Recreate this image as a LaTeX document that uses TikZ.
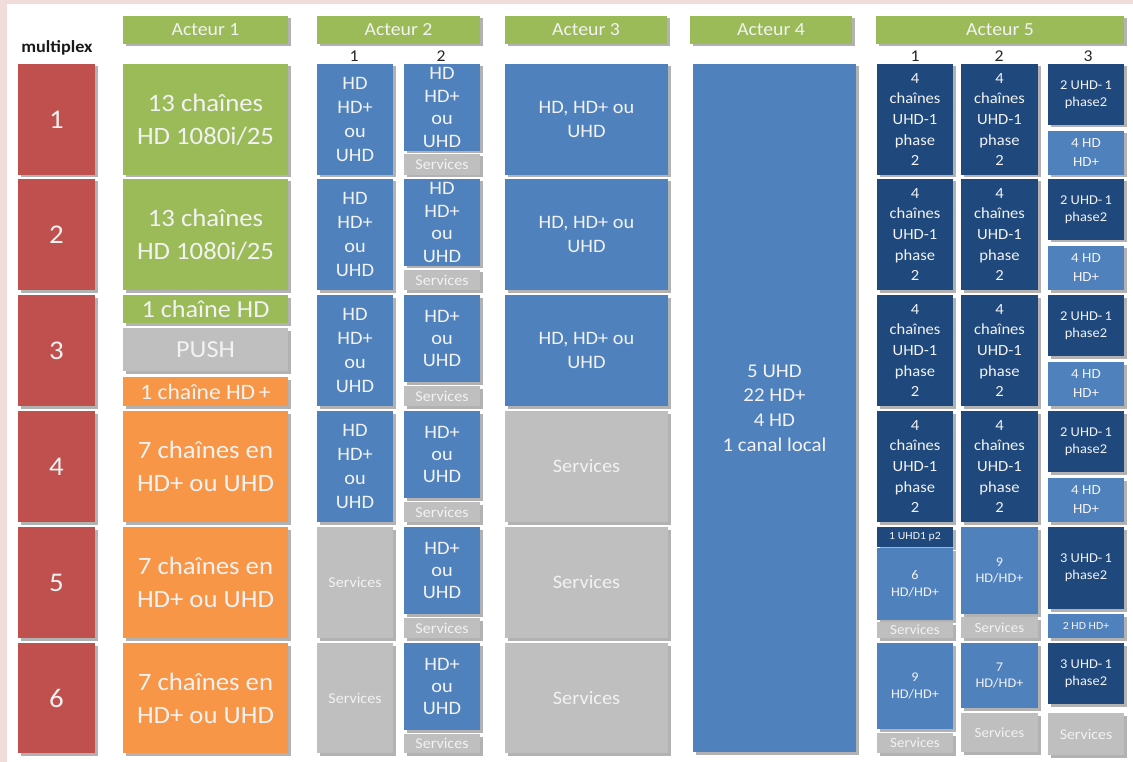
\documentclass[tikz,border=0pt]{standalone}
\usepackage{fontspec}
\setmainfont[FakeStretch=1.07]{Carlito}
\usetikzlibrary{shadows}
\definecolor{cmpx}{HTML}{C0504D}
\definecolor{cgrn}{HTML}{9BBB59}
\definecolor{corg}{HTML}{F79646}
\definecolor{cblu}{HTML}{4F81BD}
\definecolor{cdrk}{HTML}{1F497D}
\definecolor{cgry}{HTML}{BFBFBF}
\definecolor{ctxt}{HTML}{F2F2F2}
\definecolor{cpink}{HTML}{F2DCDB}
\newcommand\fs[2]{\fontsize{#1}{#2}\selectfont}
\newcommand\mybox[7]{\node[#6, minimum width={(#4)-(#2)}, minimum height={(#5)-(#3)}] (#1) at ({((#2)+(#4))/2},{((#3)+(#5))/2}) {#7};}
\tikzset{
 box/.style={rectangle, inner sep=0pt, outer sep=0pt, align=center, text=ctxt,
   drop shadow={shadow xshift=2.5pt, shadow yshift=-2.5pt, fill=black, opacity=0.3}},
 mpx/.style={box, fill=cmpx, font=\fs{27}{30}},
 grn/.style={box, fill=cgrn},
 org/.style={box, fill=corg},
 blu/.style={box, fill=cblu},
 drk/.style={box, fill=cdrk},
 gry/.style={box, fill=cgry},
 hdr/.style={box, fill=cgrn, font=\fs{18.5}{22}},
 sublbl/.style={inner sep=0pt, text=black!85, font=\fs{16.5}{18}},
 bigf/.style={font=\fs{25}{33}},
 a2a/.style={font=\fs{19}{24.3}},
 a2b/.style={font=\fs{19}{22.5}},
 a2c/.style={font=\fs{19}{21.7}},
 servs/.style={font=\fs{15}{18}},
 a3f/.style={font=\fs{19}{24}},
 chf/.style={font=\fs{15.5}{20.7}},
 uhdf/.style={font=\fs{13.5}{16.5}},
 hdf/.style={font=\fs{14}{19}},
 tinyf/.style={font=\fs{11}{13}},
 hdhdf/.style={font=\fs{13.3}{16.7}},
 serv5/.style={font=\fs{14}{16}},
}
\begin{document}
\begin{tikzpicture}[x=1pt,y=-1pt]
\useasboundingbox (0,0) rectangle (1133,762);
\fill[cpink] (0,0) rectangle (1133,762);
\fill[white] (7,4) rectangle (1133,762);
% multiplex column
\node[font=\bfseries\fs{17}{19}, text=black!90] (lbl) at (57,48) {multiplex};
\mybox{m1}{18}{64}{95}{175}{mpx}{1}
\mybox{m2}{18}{179}{95}{290}{mpx}{2}
\mybox{m3}{18}{295}{95}{406}{mpx}{3}
\mybox{m4}{18}{411}{95}{522}{mpx}{4}
\mybox{m5}{18}{527}{95}{638}{mpx}{5}
\mybox{m6}{18}{643}{95}{753}{mpx}{6}
% headers
\mybox{h1}{123}{16}{288}{44}{hdr}{Acteur 1}
\mybox{h2}{317}{16}{480}{44}{hdr}{Acteur 2}
\mybox{h3}{505}{16}{667}{44}{hdr}{Acteur 3}
\mybox{h4}{690}{16}{852}{44}{hdr}{Acteur 4}
\mybox{h5}{876}{16}{1124}{44}{hdr}{Acteur 5}
\node[sublbl] (s21) at (354,56) {1};
\node[sublbl] (s22) at (441,56) {2};
\node[sublbl] (s51) at (915,56) {1};
\node[sublbl] (s52) at (999,56) {2};
\node[sublbl] (s53) at (1088,56) {3};
% Acteur 1
\mybox{a1r1}{123}{64}{288}{175}{grn,bigf}{13 chaînes\\HD 1080i/25}
\mybox{a1r2}{123}{179}{288}{290}{grn,bigf}{13 chaînes\\HD 1080i/25}
\mybox{a1g}{123}{295}{288}{323}{grn,font=\fs{24.5}{28}}{1 chaîne HD}
\mybox{a1p}{123}{328}{288}{371}{gry,font=\fs{24.5}{28}}{PUSH}
\mybox{a1o}{123}{377}{288}{406}{org,font=\fs{22}{26}}{1 chaîne HD\,+}
\mybox{a1r4}{123}{411}{288}{522}{org,bigf}{7 chaînes en\\HD+ ou UHD}
\mybox{a1r5}{123}{527}{288}{638}{org,bigf}{7 chaînes en\\HD+ ou UHD}
\mybox{a1r6}{123}{643}{288}{753}{org,bigf}{7 chaînes en\\HD+ ou UHD}
% Acteur 2
\mybox{a2c1r1}{317}{64}{393}{175}{blu,a2a}{HD\\HD+\\ou\\UHD}
\mybox{a2c2r1}{404}{64}{480}{151}{blu,a2b}{HD\\HD+\\ou\\UHD}
\mybox{a2s1}{404}{154}{480}{175}{gry,servs}{Services}
\mybox{a2c1r2}{317}{179}{393}{290}{blu,a2a}{HD\\HD+\\ou\\UHD}
\mybox{a2c2r2}{404}{179}{480}{266}{blu,a2b}{HD\\HD+\\ou\\UHD}
\mybox{a2s2}{404}{270}{480}{290}{gry,servs}{Services}
\mybox{a2c1r3}{317}{295}{393}{406}{blu,a2a}{HD\\HD+\\ou\\UHD}
\mybox{a2c2r3}{404}{295}{480}{382}{blu,a2c}{HD+\\ou\\UHD}
\mybox{a2s3}{404}{386}{480}{406}{gry,servs}{Services}
\mybox{a2c1r4}{317}{411}{393}{522}{blu,a2a}{HD\\HD+\\ou\\UHD}
\mybox{a2c2r4}{404}{411}{480}{498}{blu,a2c}{HD+\\ou\\UHD}
\mybox{a2s4}{404}{502}{480}{522}{gry,servs}{Services}
\mybox{a2c1r5}{317}{527}{393}{638}{gry,servs}{Services}
\mybox{a2c2r5}{404}{527}{480}{614}{blu,a2c}{HD+\\ou\\UHD}
\mybox{a2s5}{404}{618}{480}{638}{gry,servs}{Services}
\mybox{a2c1r6}{317}{643}{393}{753}{gry,servs}{Services}
\mybox{a2c2r6}{404}{643}{480}{730}{blu,a2c}{HD+\\ou\\UHD}
\mybox{a2s6}{404}{734}{480}{753}{gry,servs}{Services}
% Acteur 3
\mybox{a3r1}{505}{64}{668}{175}{blu,a3f}{HD, HD+ ou\\UHD}
\mybox{a3r2}{505}{179}{668}{290}{blu,a3f}{HD, HD+ ou\\UHD}
\mybox{a3r3}{505}{295}{668}{406}{blu,a3f}{HD, HD+ ou\\UHD}
\mybox{a3r4}{505}{411}{668}{522}{gry,a3f}{Services}
\mybox{a3r5}{505}{527}{668}{638}{gry,a3f}{Services}
\mybox{a3r6}{505}{643}{668}{753}{gry,a3f}{Services}
% Acteur 4
\mybox{a4}{693}{64}{856}{752}{blu,font=\fs{19.5}{24.7}}{5 UHD\\22 HD+\\4 HD\\1 canal local}
% Acteur 5, rows 1-4
\mybox{a5c1r1}{877}{64}{953}{175}{drk,chf}{4\\chaînes\\UHD-1\\phase\\2}
\mybox{a5c2r1}{961}{64}{1038}{175}{drk,chf}{4\\chaînes\\UHD-1\\phase\\2}
\mybox{a5u1}{1048}{64}{1124}{125}{drk,uhdf}{2 UHD-\,1\\phase2}
\mybox{a5h1}{1048}{131}{1124}{175}{blu,hdf}{4 HD\\HD+}
\mybox{a5c1r2}{877}{179}{953}{290}{drk,chf}{4\\chaînes\\UHD-1\\phase\\2}
\mybox{a5c2r2}{961}{179}{1038}{290}{drk,chf}{4\\chaînes\\UHD-1\\phase\\2}
\mybox{a5u2}{1048}{179}{1124}{240}{drk,uhdf}{2 UHD-\,1\\phase2}
\mybox{a5h2}{1048}{246}{1124}{290}{blu,hdf}{4 HD\\HD+}
\mybox{a5c1r3}{877}{295}{953}{406}{drk,chf}{4\\chaînes\\UHD-1\\phase\\2}
\mybox{a5c2r3}{961}{295}{1038}{406}{drk,chf}{4\\chaînes\\UHD-1\\phase\\2}
\mybox{a5u3}{1048}{295}{1124}{356}{drk,uhdf}{2 UHD-\,1\\phase2}
\mybox{a5h3}{1048}{362}{1124}{406}{blu,hdf}{4 HD\\HD+}
\mybox{a5c1r4}{877}{411}{953}{522}{drk,chf}{4\\chaînes\\UHD-1\\phase\\2}
\mybox{a5c2r4}{961}{411}{1038}{522}{drk,chf}{4\\chaînes\\UHD-1\\phase\\2}
\mybox{a5u4}{1048}{411}{1124}{472}{drk,uhdf}{2 UHD-\,1\\phase2}
\mybox{a5h4}{1048}{478}{1124}{522}{blu,hdf}{4 HD\\HD+}
% Acteur 5, row 5
\mybox{a5t5}{877}{527}{953}{547}{drk,tinyf}{1 UHD1 p2}
\mybox{a5c1r5}{877}{548}{953}{620}{blu,hdhdf}{6\\HD/HD+}
\mybox{a5s15}{877}{622}{953}{638}{gry,serv5}{Services}
\mybox{a5c2r5}{961}{527}{1038}{614}{blu,hdhdf}{9\\HD/HD+}
\mybox{a5s25}{961}{617}{1038}{638}{gry,serv5}{Services}
\mybox{a5u5}{1048}{527}{1124}{609}{drk,font=\fs{13.5}{17.3}}{3 UHD-\,1\\phase2}
\mybox{a5h5}{1048}{614}{1124}{638}{blu,tinyf}{2 HD HD+}
% Acteur 5, row 6
\mybox{a5c1r6}{877}{643}{953}{729}{blu,hdhdf}{9\\HD/HD+}
\mybox{a5s16}{877}{733}{953}{753}{gry,serv5}{Services}
\mybox{a5c2r6}{961}{643}{1038}{708}{blu,hdhdf}{7\\HD/HD+}
\mybox{a5s26}{961}{713}{1038}{752}{gry,serv5}{Services}
\mybox{a5u6}{1048}{643}{1124}{704}{drk,font=\fs{13.5}{17.3}}{3 UHD-\,1\\phase2}
\mybox{a5s36}{1048}{713}{1124}{755}{gry,font=\fs{14.8}{17}}{Services}
\end{tikzpicture}
\end{document}
